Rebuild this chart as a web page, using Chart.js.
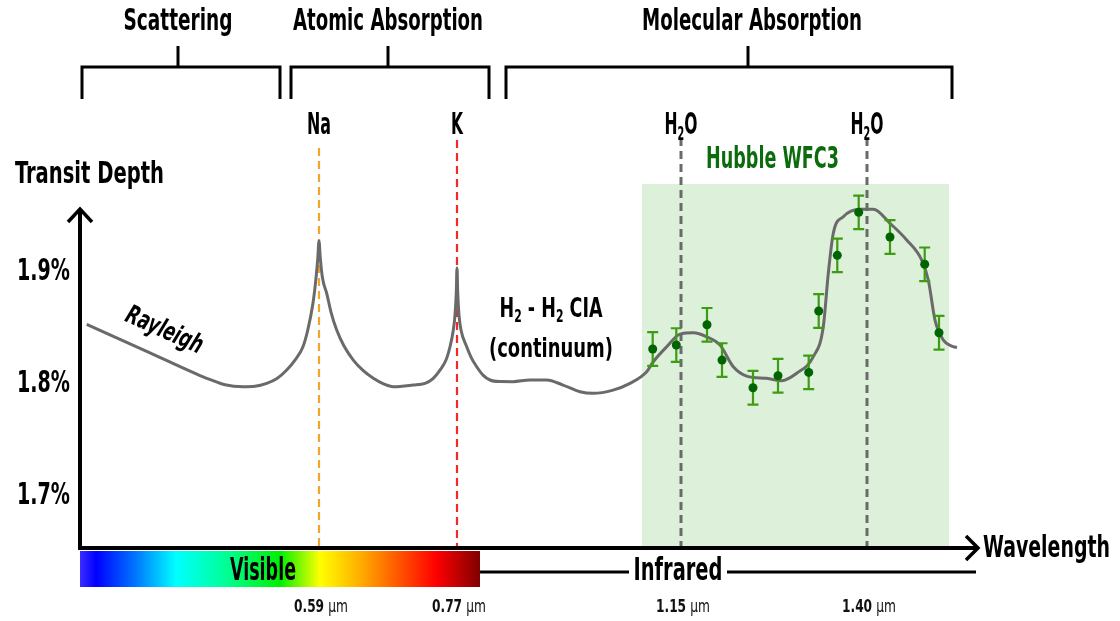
<!DOCTYPE html>
<html><head><meta charset="utf-8">
<script src="https://cdn.jsdelivr.net/npm/chart.js@4"></script>
<style>html,body{margin:0;padding:0;background:#fff;}canvas{display:block;}</style>
</head><body>
<canvas id="c" width="1120" height="621"></canvas>
<script>
const FONT = '"Liberation Sans Narrow", "DejaVu Sans Condensed", sans-serif';

// Model transit spectrum (schematic wavelength position, transit depth %)
const curveX = [0.67,7.0,12.0,13.3,14.5,16.3,17.5,18.67,19.7,20.67,21.5,22.3,22.8,23.3,23.6,23.78,23.9,24.03,24.25,24.67,25.1,25.67,26.4,27.33,28.3,29.33,30.3,31.33,33.3,34.5,35.3,36.0,36.6,37.0,37.3,37.5,37.63,37.7,37.77,37.9,38.1,38.67,39.1,39.67,40.3,41.0,42.0,43.3,45.0,46.67,48.3,50.0,51.3,53.3,55.0,56.67,57.33,58.67,60.0,61.33,62.67,64.0,65.33,66.67,68.67,70.17,71.67,73.33,74.33,74.83,75.33,76.33,78.0,79.33,81.0,82.67,84.17,84.83,85.5,86.33,87.33,87.7];
const curveY = [1.8533,1.8278,1.8076,1.8031,1.7993,1.7976,1.7980,1.8006,1.8049,1.8125,1.8214,1.8333,1.8491,1.8723,1.8946,1.9125,1.9277,1.9125,1.8946,1.8810,1.8643,1.8482,1.8339,1.8214,1.8121,1.8051,1.8004,1.7976,1.7991,1.8006,1.8049,1.8125,1.8214,1.8333,1.8464,1.8616,1.8821,1.9036,1.8821,1.8616,1.8482,1.8333,1.8241,1.8154,1.8080,1.8036,1.8022,1.8021,1.8036,1.8036,1.7991,1.7931,1.7917,1.7946,1.8006,1.8110,1.8199,1.8333,1.8446,1.8458,1.8422,1.8348,1.8154,1.8071,1.8051,1.8030,1.8096,1.8244,1.8512,1.8988,1.9346,1.9494,1.9560,1.9560,1.9435,1.9286,1.9107,1.8929,1.8571,1.8393,1.8333,1.8326];

// Hubble WFC3 observations
const obsX = [57.27,59.63,62.7,64.2,67.3,69.8,72.87,73.87,75.73,77.87,81.0,84.47,85.9];
const obsY = [1.8313,1.8348,1.8529,1.8214,1.7967,1.8074,1.8104,1.8652,1.9149,1.9533,1.9313,1.9069,1.8458];
const obsErr = [0.015,0.015,0.015,0.015,0.015,0.015,0.015,0.015,0.015,0.015,0.015,0.015,0.015];

const yTicks = [1.7, 1.8, 1.9];
const featureNames = [[{t:'Na'}],[{t:'K'}],[{t:'H'},{t:'2',sub:true},{t:'O'}],[{t:'H'},{t:'2',sub:true},{t:'O'}]];
const featureX = [23.9, 37.7, 60.1, 78.7];
const featureTick = ['0.59','0.77','1.15','1.40'];
const tickUnit = 'µm';
const regionNames = ['Scattering','Atomic Absorption','Molecular Absorption'];
const regionStart = [0.2, 21.1, 42.6];
const regionEnd = [20.0, 40.9, 87.2];
const regionMid = [9.8, 30.8, 66.8];
const hubbleRange = [56.2, 86.9];
const visibleRange = [0, 40];
const infraredRange = [40, 89.6];
const yMin = 1.6536, yMax = 1.9786;

function rich(ctx, parts, cx, cy, size, targetW, color, opts) {
  opts = opts || {};
  ctx.save();
  const st = opts.italic ? 'italic ' : '';
  const f = (s, p) => st + (p && p.normal ? 'normal ' : 'bold ') + s + 'px ' + FONT;
  const sz = p => p.sub ? size * 0.62 : (p.scale ? size * p.scale : size);
  let total = 0; const ws = [];
  parts.forEach(p => { ctx.font = f(sz(p), p); const w = ctx.measureText(p.t).width; ws.push(w); total += w; });
  const k = targetW ? targetW / total : 1;
  ctx.translate(cx, cy);
  if (opts.rot) ctx.rotate(opts.rot);
  ctx.scale(k, 1);
  ctx.fillStyle = color; ctx.textBaseline = 'middle'; ctx.textAlign = 'left';
  let xx = opts.align === 'right' ? -total : -total / 2;
  parts.forEach((p, i) => { ctx.font = f(sz(p), p); ctx.fillText(p.t, xx, p.sub ? size * 0.3 : 0); xx += ws[i]; });
  ctx.restore();
}
function line(ctx, pts, w, color) {
  ctx.save(); ctx.strokeStyle = color; ctx.lineWidth = w; ctx.lineCap = 'butt'; ctx.lineJoin = 'miter';
  ctx.beginPath(); ctx.moveTo(pts[0][0], pts[0][1]);
  for (let i = 1; i < pts.length; i++) ctx.lineTo(pts[i][0], pts[i][1]);
  ctx.stroke(); ctx.restore();
}

const featureColor = ['#f4a42a', '#ee2a2a', '#6a6a6a', '#6a6a6a'];
const featureTop = [148, 140, 138, 138];

const deco = {
  id: 'deco',
  beforeDatasetsDraw(chart) {
    const { ctx, chartArea: a, scales: { x, y } } = chart;
    const x0 = x.getPixelForValue(hubbleRange[0]), x1 = x.getPixelForValue(hubbleRange[1]);
    const yt = y.getPixelForValue(yMax);
    ctx.save();
    ctx.fillStyle = '#ddf0d9';
    ctx.fillRect(x0, yt, x1 - x0, a.bottom - yt);
    featureX.forEach((fx, i) => {
      const px = x.getPixelForValue(fx);
      ctx.setLineDash(i < 2 ? [8, 5] : [8, 5]);
      ctx.strokeStyle = featureColor[i];
      ctx.lineWidth = i < 2 ? 2.2 : 3;
      ctx.beginPath(); ctx.moveTo(px, featureTop[i]); ctx.lineTo(px, a.bottom); ctx.stroke();
    });
    ctx.restore();
  },
  afterDatasetDraw(chart, args) {
    if (args.index !== 1) return;
    const { ctx, scales: { x, y } } = chart;
    ctx.save();
    ctx.strokeStyle = '#3d9c14'; ctx.lineWidth = 2.2;
    obsX.forEach((ox, i) => {
      const px = x.getPixelForValue(ox);
      const t = y.getPixelForValue(obsY[i] + obsErr[i]);
      const b = y.getPixelForValue(obsY[i] - obsErr[i]);
      ctx.beginPath();
      ctx.moveTo(px, t); ctx.lineTo(px, b);
      ctx.moveTo(px - 5.5, t); ctx.lineTo(px + 5.5, t);
      ctx.moveTo(px - 5.5, b); ctx.lineTo(px + 5.5, b);
      ctx.stroke();
    });
    ctx.restore();
  },
  afterDraw(chart) {
    const { ctx, chartArea: a, scales: { x, y } } = chart;
    const L = a.left, B = a.bottom;
    // spectrum bar
    const v0 = x.getPixelForValue(visibleRange[0]), v1 = x.getPixelForValue(visibleRange[1]);
    const g = ctx.createLinearGradient(v0, 0, v1, 0);
    [[0, '#3b2dff'], [0.04, '#0000ff'], [0.14, '#0078ff'], [0.24, '#00ffff'], [0.36, '#00ff9a'], [0.5, '#00f000'], [0.6, '#ffff00'], [0.7, '#ffae00'], [0.89, '#ff0000'], [1, '#800000']]
      .forEach(s => g.addColorStop(s[0], s[1]));
    ctx.fillStyle = g;
    ctx.fillRect(v0, B + 3, v1 - v0, 36);
    // infrared line
    const i1 = x.getPixelForValue(infraredRange[1]);
    line(ctx, [[v1, 572], [i1, 572]], 3, '#000');
    ctx.fillStyle = '#fff'; ctx.fillRect(629, 558, 98, 30);
    // axes
    line(ctx, [[L, B], [L, 209]], 4, '#000');
    line(ctx, [[L - 12, 222], [L, 209], [L + 12, 222]], 3.5, '#000');
    const xe = i1 + 2;
    line(ctx, [[L - 2, B], [xe, B]], 4, '#000');
    line(ctx, [[xe - 12, B - 12], [xe, B], [xe - 12, B + 12]], 3.5, '#000');
    // y tick labels from the y scale
    y.ticks.forEach(t => rich(ctx, [{ t: t.value.toFixed(1) + '%' }], L - 10, y.getPixelForValue(t.value), 31, 53, '#000', { align: 'right' }));
    // x tick labels from the x scale
    x.ticks.forEach((t, i) => rich(ctx, [{ t: featureTick[i] + ' ' }, { t: tickUnit, normal: true }], x.getPixelForValue(t.value) + 2, 607, 18, 54, '#111'));
    // brackets
    regionNames.forEach((n, i) => {
      const s = x.getPixelForValue(regionStart[i]), e = x.getPixelForValue(regionEnd[i]), m = x.getPixelForValue(regionMid[i]);
      line(ctx, [[s, 99], [s, 67], [e, 67], [e, 99]], 3, '#000');
      line(ctx, [[m, 67], [m, 46]], 3, '#000');
    });
    const tw = [109, 190, 220];
    regionNames.forEach((n, i) => rich(ctx, [{ t: n }], x.getPixelForValue(regionMid[i]) + (i === 2 ? 4 : 0), 22, 31, tw[i], '#000'));
    // feature labels
    const fw = [24, 12, 33, 33];
    featureNames.forEach((p, i) => rich(ctx, p, x.getPixelForValue(featureX[i]), 126, 31, fw[i], '#000'));
    rich(ctx, [{ t: 'Transit Depth' }], 89.5, 175, 31, 149, '#000');
    rich(ctx, [{ t: 'Hubble WFC3' }], 772.5, 160, 31, 133, '#0c6b0c');
    rich(ctx, [{ t: 'H' }, { t: '2', sub: true }, { t: ' - H' }, { t: '2', sub: true }, { t: ' CIA' }], 551, 310, 27, 103, '#000');
    rich(ctx, [{ t: '(continuum)' }], 551, 350, 27, 124, '#000');
    rich(ctx, [{ t: 'Rayleigh' }], 164, 331, 26, 82, '#000', { italic: true, rot: 0.42 });
    rich(ctx, [{ t: 'Visible' }], 263, 572, 32, 66, '#000');
    rich(ctx, [{ t: 'Infrared' }], 678, 572, 32, 89, '#000');
    rich(ctx, [{ t: 'Wavelength' }], 1046.5, 549, 31, 127, '#000');
  }
};

new Chart(document.getElementById('c').getContext('2d'), {
  type: 'scatter',
  data: {
    datasets: [
      { label: 'Hubble WFC3', data: obsX.map((v, i) => ({ x: v, y: obsY[i] })), pointRadius: 4.5, pointBackgroundColor: '#006400', pointBorderWidth: 0, showLine: false, order: 0 },
      { label: 'Model', data: curveX.map((v, i) => ({ x: v, y: curveY[i] })), showLine: true, borderColor: '#6a6a6a', borderWidth: 3, pointRadius: 0, cubicInterpolationMode: 'monotone', fill: false, order: 1 }
    ]
  },
  options: {
    responsive: false, animation: false, devicePixelRatio: 1,
    layout: { padding: { top: 184, right: 140, left: 0, bottom: 0 } },
    plugins: { legend: { display: false }, tooltip: { enabled: false } },
    scales: {
      x: {
        type: 'linear', min: 0, max: 90,
        grid: { display: false, drawTicks: false }, border: { display: false },
        afterBuildTicks: s => { s.ticks = featureX.map(v => ({ value: v })); },
        afterFit: s => { s.height = 73; },
        ticks: { display: false, autoSkip: false }
      },
      y: {
        min: yMin, max: yMax,
        grid: { display: false, drawTicks: false }, border: { display: false },
        afterBuildTicks: s => { s.ticks = yTicks.map(v => ({ value: v })); },
        afterFit: s => { s.width = 80; },
        ticks: { display: false }
      }
    }
  },
  plugins: [deco]
});
</script>
</body></html>
